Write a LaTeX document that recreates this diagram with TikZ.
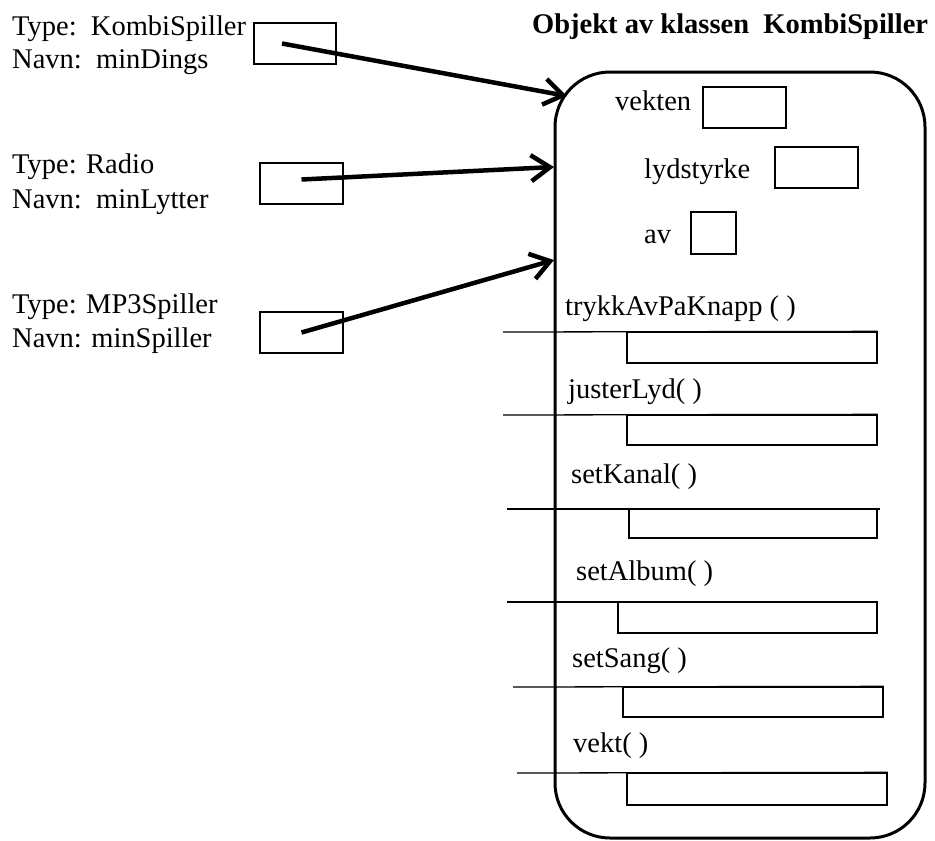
\documentclass[tikz,border=0pt]{standalone}
\usepackage{fontspec}
\setmainfont{Liberation Serif}
\usetikzlibrary{arrows.meta}

\begin{document}
\begin{tikzpicture}[x=1pt,y=-1pt,
    tekst/.style={anchor=base west, inner sep=0pt, font=\fontsize{28.5}{33}\selectfont},
    felt/.style={draw, line width=1.3pt, inner sep=0pt},
    peker/.style={line width=4.5pt, -{Straight Barb[length=19pt,width=26pt]}},
    skille/.style={line width=1.3pt}]
\useasboundingbox (0,0) rectangle (935,841);

%---------------------------------------------------------------------------------------- REFERANSER
\node[tekst] (typeA) at (12,35) {Type:\ \ KombiSpiller};
\node[tekst] (navnA) at (12,68) {Navn:\ \ minDings};
\node[felt, minimum width=82pt, minimum height=41pt] (refA) at (295,43.5) {};

\node[tekst] (typeB) at (12,173) {Type: Radio};
\node[tekst] (navnB) at (12,208) {Navn:\ \ minLytter};
\node[felt, minimum width=83pt, minimum height=41pt] (refB) at (301.5,183.5) {};

\node[tekst] (typeC) at (12,313) {Type: MP3Spiller};
\node[tekst] (navnC) at (12,347) {Navn: minSpiller};
\node[felt, minimum width=83pt, minimum height=41pt] (refC) at (301.5,332.5) {};

%---------------------------------------------------------------------------------------- OBJEKTET
\node[tekst, font=\fontsize{28.5}{33}\selectfont\bfseries] (tittel) at (532,33) {Objekt av klassen\ \ KombiSpiller};
\node[draw, line width=3pt, rounded corners=55pt, inner sep=0pt,
      minimum width=370pt, minimum height=766pt] (obj) at (740,455) {};

\node[tekst] (vekten) at (615,110) {vekten};            %----------------------------- variabler
\node[felt, minimum width=83pt, minimum height=41pt] (vektenF) at (744.5,107.5) {};
\node[tekst] (lyd) at (644,178) {lydstyrke};
\node[felt, minimum width=83pt, minimum height=41pt] (lydF) at (816.5,167.5) {};
\node[tekst] (av) at (644,243) {av};
\node[felt, minimum width=45pt, minimum height=42pt] (avF) at (713.5,233) {};

%---------------------------------------------------------------------------------------- METODER
\node[tekst] (trykk) at (565,315) {trykkAvPaKnapp ( )};
\node[felt, minimum width=250pt, minimum height=31pt] (trykkF) at (752,347.5) {};
\draw[skille] (503,332) -- (trykkF.north east);

\node[tekst] (juster) at (568,398) {justerLyd( )};
\node[felt, minimum width=250pt, minimum height=30pt] (justerF) at (752,430) {};
\draw[skille] (503,415) -- (justerF.north east);

\node[tekst] (kanal) at (571,483) {setKanal( )};
\node[felt, minimum width=248pt, minimum height=29pt] (kanalF) at (753,523.5) {};
\draw[skille] (507,509) -- (880,509);

\node[tekst] (album) at (576,580) {setAlbum( )};
\node[felt, minimum width=259pt, minimum height=31pt] (albumF) at (747.5,617.5) {};
\draw[skille] (507,602) -- (878,602);

\node[tekst] (sang) at (572,667) {setSang( )};
\node[felt, minimum width=260pt, minimum height=30pt] (sangF) at (753,702) {};
\draw[skille] (513,687) -- (sangF.north east);

\node[tekst] (vekt) at (573,752) {vekt( )};
\node[felt, minimum width=260pt, minimum height=32pt] (vektF) at (757,789) {};
\draw[skille] (517,773) -- (vektF.north east);

%---------------------------------------------------------------------------------------- PEKERE
\coordinate (innA) at (567,96);
\coordinate (innB) at (554,167);
\coordinate (innC) at (554,260);
\draw[peker] ([xshift=-13pt]refA.center) -- (innA);
\draw[peker] ([yshift=4pt]refB.center) -- (innB);
\draw[peker] (refC.center) -- (innC);

\end{tikzpicture}
\end{document}
